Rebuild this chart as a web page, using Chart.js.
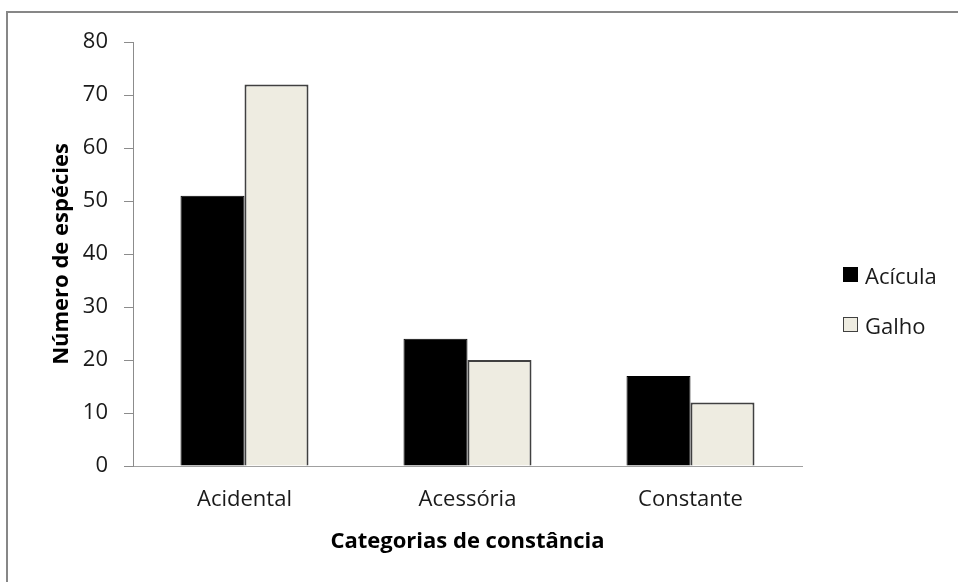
<!DOCTYPE html>
<html>
<head>
<meta charset="utf-8">
<script src="https://cdn.jsdelivr.net/npm/chart.js@4/dist/chart.umd.min.js"></script>
<style>
  html, body { margin: 0; padding: 0; background: #fff; overflow: hidden; }
  #moldura {
    position: absolute; left: 6px; top: 11px; width: 980px; height: 600px;
    border: 2px solid #878787; pointer-events: none;
  }
  #grafico { position: absolute; left: 0; top: 0; }
  #legenda {
    position: absolute; left: 843px; top: 260px;
    font-family: "Open Sans", sans-serif; font-size: 22px; color: #1a1a1a;
  }
  #legenda .item { display: flex; align-items: center; height: 29px; margin-bottom: 21px; }
  #legenda .caixa { width: 13px; height: 13px; margin-right: 7px; border: 1px solid #333; }
</style>
</head>
<body>
<div id="moldura"></div>
<canvas id="grafico" width="958" height="582"></canvas>
<div id="legenda"></div>
<script>
// Categorias e número de espécies por tipo de substrato
const categorias = ["Acidental", "Acessória", "Constante"];
const acicula = [51, 24, 17];
const galho = [72, 20, 12];
const ticksY = [0, 10, 20, 30, 40, 50, 60, 70, 80];

const fonte = "'Open Sans', sans-serif";
const corTexto = "#1a1a1a";

const $grafico = document.querySelector("#grafico");

const grafico = new Chart($grafico, {
  type: "bar",
  data: {
    labels: categorias,
    datasets: [
      {
        label: "Acícula",
        data: acicula,
        backgroundColor: "#000000",
        borderColor: "#000000",
        borderWidth: 1,
      },
      {
        label: "Galho",
        data: galho,
        backgroundColor: "#EEECE1",
        borderColor: "#404040",
        borderWidth: 2,
      },
    ],
  },
  options: {
    responsive: false,
    animation: false,
    layout: { padding: { left: 0, top: 42, right: 156, bottom: 0 } },
    datasets: {
      bar: { categoryPercentage: 0.574, barPercentage: 1 },
    },
    plugins: {
      legend: { display: false },
      tooltip: { enabled: false },
    },
    scales: {
      x: {
        grid: { display: false, drawTicks: false },
        border: { display: true, color: "#a0a0a0", width: 1 },
        ticks: { color: corTexto, font: { family: fonte, size: 22 }, padding: 21 },
        title: {
          display: true,
          text: "Categorias de constância",
          color: "#000",
          font: { family: fonte, size: 22, weight: "bold" },
          padding: { top: 0, bottom: 27 },
        },
        afterFit: (escala) => { escala.height = 116; },
      },
      y: {
        min: 0,
        max: 80,
        afterBuildTicks: (escala) => { escala.ticks = ticksY.map((v) => ({ value: v })); },
        grid: { drawOnChartArea: false, drawTicks: true, tickLength: 9, color: "#8c8c8c" },
        border: { display: true, color: "#8c8c8c", width: 1 },
        ticks: { color: corTexto, font: { family: fonte, size: 22 }, padding: 16 },
        title: {
          display: true,
          text: "Número de espécies",
          color: "#000",
          font: { family: fonte, size: 22, weight: "bold" },
          padding: { top: 49, bottom: 0 },
        },
        afterFit: (escala) => { escala.width = 133; },
      },
    },
  },
});

// Legenda em HTML montada a partir dos datasets do gráfico
const $legenda = document.querySelector("#legenda");
grafico.data.datasets.forEach((ds) => {
  const item = document.createElement("div");
  item.className = "item";
  const caixa = document.createElement("span");
  caixa.className = "caixa";
  caixa.style.background = ds.backgroundColor;
  caixa.style.borderColor = ds.borderColor;
  const texto = document.createElement("span");
  texto.textContent = ds.label;
  item.appendChild(caixa);
  item.appendChild(texto);
  $legenda.appendChild(item);
});
</script>
</body>
</html>
